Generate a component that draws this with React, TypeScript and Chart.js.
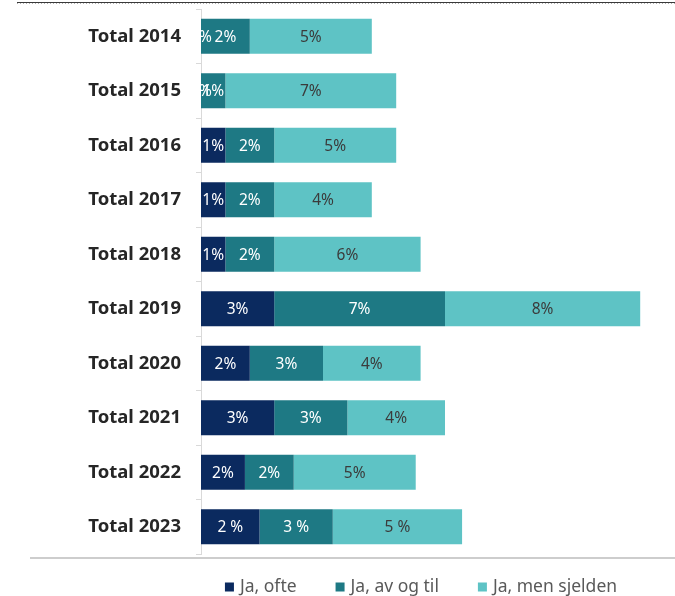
import React, { useEffect, useRef } from "react";
import { Chart, registerables } from "chart.js";

Chart.register(...registerables);

const categories = [
  "Total 2014",
  "Total 2015",
  "Total 2016",
  "Total 2017",
  "Total 2018",
  "Total 2019",
  "Total 2020",
  "Total 2021",
  "Total 2022",
  "Total 2023",
];
const seriesNames = ["Ja, ofte", "Ja, av og til", "Ja, men sjelden"];
const jaOfte = [0, 0, 1, 1, 1, 3, 2, 3, 1.8, 2.4];
const jaAvOgTil = [2, 1, 2, 2, 2, 7, 3, 3, 2, 3];
const jaMenSjelden = [5, 7, 5, 4, 6, 8, 4, 4, 5, 5.3];
const labelSuffix = ["%", "%", "%", "%", "%", "%", "%", "%", "%", " %"];
const xMax = 19;

const barColors = ["#0b2a5f", "#1e7984", "#5ec3c5"];
const valueLabelColors = ["#ffffff", "#ffffff", "#3b3b3b"];
const FONT = "'Noto Sans', 'DejaVu Sans', sans-serif";

export default function App() {
  const ref = useRef<HTMLCanvasElement>(null);

  useEffect(() => {
    if (!ref.current) return;

    const valueLabels = {
      id: "valueLabels",
      afterDatasetsDraw(chart: any) {
        const ctx = chart.ctx;
        ctx.save();
        ctx.font = `15.5px ${FONT}`;
        ctx.textAlign = "center";
        ctx.textBaseline = "middle";
        chart.data.datasets.forEach((ds: any, di: number) => {
          const meta = chart.getDatasetMeta(di);
          meta.data.forEach((el: any, i: number) => {
            const v = ds.data[i] as number;
            const { x, y, base } = el.getProps(["x", "y", "base"], true);
            ctx.fillStyle = valueLabelColors[di];
            ctx.fillText(Math.round(v) + labelSuffix[i], (x + base) / 2, y + 1);
          });
        });
        ctx.restore();
      },
    };

    const decorations = {
      id: "decorations",
      afterDraw(chart: any) {
        const ctx = chart.ctx;
        const w = chart.width;
        ctx.save();
        // top rule
        ctx.strokeStyle = "#3a3a3a";
        ctx.lineWidth = 1;
        ctx.beginPath();
        ctx.moveTo(17, 2.5);
        ctx.lineTo(w, 2.5);
        ctx.stroke();
        ctx.strokeStyle = "#b0b0b0";
        ctx.setLineDash([1, 2]);
        ctx.beginPath();
        ctx.moveTo(17, 3.5);
        ctx.lineTo(w, 3.5);
        ctx.stroke();
        ctx.setLineDash([]);
        // bottom rule
        ctx.strokeStyle = "#bdbdbd";
        ctx.lineWidth = 1.5;
        ctx.beginPath();
        ctx.moveTo(30, 558);
        ctx.lineTo(w, 558);
        ctx.stroke();

        // legend
        ctx.font = `17.5px ${FONT}`;
        ctx.textBaseline = "middle";
        ctx.textAlign = "left";
        const box = 9;
        const gapText = 6;
        const gapItem = 39;
        const items = chart.data.datasets.map((ds: any) => ({
          label: ds.label as string,
          color: ds.backgroundColor as string,
          w: ctx.measureText(ds.label).width,
        }));
        const total =
          items.reduce((s: number, it: any) => s + box + gapText + it.w, 0) +
          gapItem * (items.length - 1);
        let x = 421 - total / 2;
        const y = 587;
        items.forEach((it: any) => {
          ctx.fillStyle = it.color;
          ctx.fillRect(x, y - box / 2, box, box);
          x += box + gapText;
          ctx.fillStyle = "#595959";
          ctx.fillText(it.label, x, y);
          x += it.w + gapItem;
        });
        ctx.restore();
      },
    };

    const chart = new Chart(ref.current, {
      type: "bar",
      data: {
        labels: categories,
        datasets: [
          { label: seriesNames[0], data: jaOfte, backgroundColor: barColors[0] },
          { label: seriesNames[1], data: jaAvOgTil, backgroundColor: barColors[1] },
          { label: seriesNames[2], data: jaMenSjelden, backgroundColor: barColors[2] },
        ],
      },
      options: {
        indexAxis: "y",
        responsive: false,
        animation: false,
        devicePixelRatio: 1,
        datasets: {
          bar: { barPercentage: 0.64, categoryPercentage: 1, borderWidth: 0 },
        },
        layout: { padding: { left: 0, right: 10.4, top: 9, bottom: 42 } },
        plugins: {
          legend: { display: false },
          tooltip: { enabled: false },
        },
        scales: {
          x: { stacked: true, display: false, min: 0, max: xMax },
          y: {
            stacked: true,
            afterFit: (s: any) => {
              s.width = 201;
              s.paddingTop = 0;
              s.paddingBottom = 0;
            },
            grid: {
              drawOnChartArea: false,
              drawTicks: true,
              tickLength: 5,
              color: "#d9d9d9",
              offset: true,
            },
            border: { color: "#d9d9d9" },
            ticks: {
              color: "#262626",
              padding: 15,
              font: { family: FONT, size: 18.5, weight: "bold" },
            },
          },
        },
      },
      plugins: [valueLabels, decorations],
    } as any);

    return () => chart.destroy();
  }, []);

  return (
    <div style={{ position: "absolute", left: 0, top: 0, width: 675, height: 596, background: "#fff" }}>
      <canvas ref={ref} width={675} height={596} />
    </div>
  );
}
